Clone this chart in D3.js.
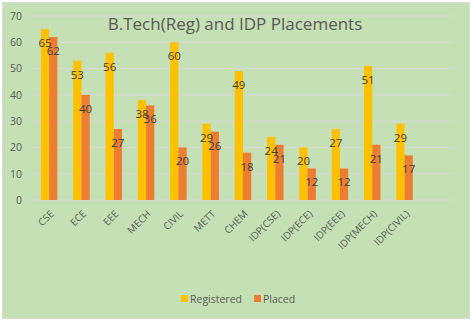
<!DOCTYPE html>
<html><head><meta charset="utf-8">
<script src="https://cdn.jsdelivr.net/npm/d3@7"></script>
<style>body{margin:0;background:#fff}svg{display:block}</style>
</head><body>
<script>
const categories = ["CSE","ECE","EEE","MECH","CIVIL","METT","CHEM","IDP(CSE)","IDP(ECE)","IDP(EEE)","IDP(MECH)","IDP(CIVIL)",""];
const registered = [65,53,56,38,60,29,49,24,20,27,51,29,null];
const placed = [62,40,27,36,20,26,18,21,12,12,21,17,null];
const yTicks = [0,10,20,30,40,50,60,70];
const seriesNames = ["Registered","Placed"];
const colors = ["#FFC000","#ED7D31"];

const W = 472, H = 322;
const svg = d3.select("body").append("svg").attr("width",W).attr("height",H);
svg.append("rect").attr("x",2.5).attr("y",2.5).attr("width",467).attr("height",316)
  .attr("fill","#C5E0B4").attr("stroke","#D9D9D9");

const font = "Calibri, Carlito, 'Open Sans', sans-serif";
const x0 = d3.scaleBand().domain(categories).range([33,453]).paddingInner(0.49).paddingOuter(0.245);
const x1 = d3.scaleBand().domain([0,1]).range([0,x0.bandwidth()]);
const y = d3.scaleLinear().domain([0,70]).range([200,16]);

const g = svg.append("g");
g.selectAll("line.grid").data(yTicks).join("line")
  .attr("x1",33).attr("x2",453).attr("y1",d=>y(d)).attr("y2",d=>y(d))
  .attr("stroke","#D9D9D9").attr("stroke-width",1);

const yAxis = d3.axisLeft(y).tickValues(yTicks).tickSize(0).tickPadding(8);
const ya = svg.append("g").attr("transform","translate(30,0)").call(yAxis);
ya.select(".domain").remove();
ya.selectAll("text").attr("fill","#595959").style("font-family","'Open Sans', sans-serif").style("font-size","10.5px");

const data = [registered, placed];
data.forEach((arr,si)=>{
  const grp = svg.append("g");
  categories.forEach((c,i)=>{
    const v = arr[i];
    if (v==null) return;
    const bx = x0(c)+x1(si);
    grp.append("rect").attr("x",bx).attr("y",y(v)).attr("width",x1.bandwidth()).attr("height",y(0)-y(v))
      .attr("fill",colors[si]);
  });
});
data.forEach((arr,si)=>{
  categories.forEach((c,i)=>{
    const v = arr[i];
    if (v==null) return;
    const cx = x0(c)+x1(si)+x1.bandwidth()/2;
    svg.append("text").attr("x",cx).attr("y",y(v)+18).attr("text-anchor","middle")
      .attr("fill","#404040").style("font-family","'Open Sans', sans-serif").style("font-size","11.5px").text(v);
  });
});

// x labels
categories.forEach(c=>{
  if (!c) return;
  const cx = x0(c)+x0.bandwidth()/2+3;
  svg.append("text").attr("transform",`translate(${cx},212) rotate(-45)`).attr("text-anchor","end")
    .attr("dy","0.35em")
    .attr("fill","#595959").style("font-family","'Open Sans', sans-serif").style("font-size","10px").text(c);
});

svg.append("text").attr("x",235).attr("y",30).attr("text-anchor","middle")
  .attr("fill","#595959").style("font-family","'Open Sans', sans-serif").style("font-size","17px").text("B.Tech(Reg) and IDP Placements");

// legend
const leg = [{x:181,tx:190},{x:254,tx:263}];
seriesNames.forEach((n,i)=>{
  svg.append("rect").attr("x",leg[i].x).attr("y",295).attr("width",7).attr("height",7).attr("fill",colors[i]);
  svg.append("text").attr("x",leg[i].tx).attr("y",302.5).attr("fill","#595959")
    .style("font-family","'Open Sans', sans-serif").style("font-size","10.5px").text(n);
});
</script>
</body></html>
